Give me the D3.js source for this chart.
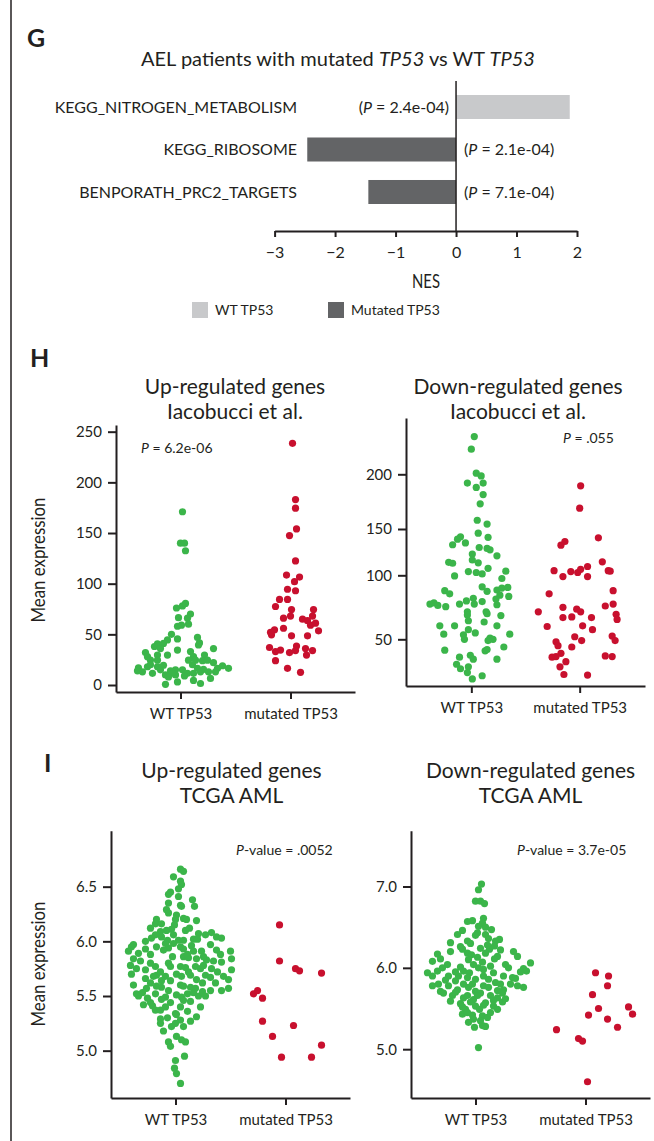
<!DOCTYPE html>
<html lang="en">
<head>
<meta charset="UTF-8">
<title>AEL TP53 figure</title>
<script src="https://d3js.org/d3.v7.min.js"></script>
<style>
  body { margin: 0; background: #fff; }
  svg { display: block; font-family: Lato, "Open Sans", sans-serif; }
  .axis path, .axis line { stroke: #231f20; stroke-width: 2px; }
  .axis text { fill: #231f20; font-family: Lato, "Open Sans", sans-serif; }
  .lbl { fill: #231f20; }
</style>
</head>
<body>
<div id="figure"></div>
<script>
// ---------- panel G: GSEA NES ----------
const pathways = ["KEGG_NITROGEN_METABOLISM", "KEGG_RIBOSOME", "BENPORATH_PRC2_TARGETS"];
const nesValues = [1.88, -2.46, -1.45];
const pathwayP = ["2.4e-04", "2.1e-04", "7.1e-04"];
const nesTicks = [-3, -2, -1, 0, 1, 2];
const legendGroups = ["WT TP53", "Mutated TP53"];

// ---------- panels H / I: dot plots, [jitter, value] ----------
const scatterGroups = ["WT TP53", "mutated TP53"];

const hUpWT = [[2,171],[0,140],[4,140],[5,132.5],[-4,76],[2,78],[5,80.5],[10,70],[-2,66.5],[7,66],[-3,58],[1,59],[8,60],
  [-9,50],[17,47],[-13,44.5],[-3,45.5],[-23,40.5],[-17,41],[19,41.5],[-26,38],[-20,36],[-3,34.5],[18,39.5],[33,36],
  [-35,32],[10,33],[-23,29.5],[-33,28],[-13,29.5],[24,29.5],[13,28],[-30,24.5],[-23,24.5],[8,24.5],[15,24.5],[22,24],
  [27,24.5],[33,22],[-42,17],[-33,18],[-23,18],[-17,19.5],[17,16.5],[23,15.5],[37,16.5],[42,19],[48,16.5],
  [-43,14],[-20,15],[-10,14],[-5,15],[2,15],[7,11.5],[13,11.5],[20,13],[28,13],[35,13],[-28,11.5],[-15,10],
  [-5,10],[4,9],[30,6.5],[13,4.5],[20,1.5],[-15,0.7],[-8,12],[-38,13],[-30,20],[12,20],[-12,8],[-3,3]];
const hUpMut = [[2,238.5],[5,183],[5,174.5],[6,154],[-1,147.5],[5,122.5],[-4,108.5],[9,106.5],[4,102],[-3,94.5],[5,93],
  [-11,84.5],[-3,84.5],[-15,77.5],[1,74.5],[23,74.5],[22,68],[-7,66],[0,68],[12,65],[17,63.5],[20,59],[25,61],[28,53.5],
  [-16,54.5],[-7,56],[-19,49.5],[1,48.5],[17,48.5],[-21,37],[-10,34.5],[6,38.5],[15,36],[22,34],[-15,33],[-1,32],
  [5,34],[16,29.5],[-15,24],[-3,16.5],[10,12.5],[-20,52]];

const hDownWT = [[3,234.5],[0,223],[5,201],[10,198.5],[-4,192],[5,188],[12,192],[12,181.5],[9,173],[6,158],[16,154.5],
  [7,145.5],[-11,141.5],[-14,139],[17,141],[-6,135],[-19,133],[8,130],[16,129],[19,127.5],[1,123],[26,121],[-23,114],
  [-19,113],[1,116.5],[7,113.5],[17,107.5],[-3,104],[5,103],[11,101.5],[35,104.5],[-17,99.5],[31,97.5],[11,91],[16,87.5],
  [26,88.5],[31,90],[37,90.5],[29,84.5],[38,83.5],[-27,88],[-22,85.5],[2,82],[11,79.5],[-5,80],[25,81.5],[-42,77.5],
  [-38,78.5],[-34,76.5],[-26,75.5],[-12,77.5],[3,77.5],[26,77],[-4,71.5],[15,71.5],[-4,69],[16,70],[30,68.5],[-3,64.5],
  [13,63.5],[-32,60.5],[-17,60.5],[26,60.5],[-3,57.5],[-28,54],[-8,53.5],[4,55],[39,54],[-7,50],[19,51],[22,50],[17,49],
  [33,44],[-27,41.5],[14,41],[16,42],[-12,36],[-1,37.5],[2,34.5],[26,34.5],[-15,30.5],[-11,27],[-3,28.5],[-4,24],
  [11,21.5],[1,19]];
const hDownMut = [[1,189.5],[0,169],[19,140.5],[-19,132.5],[-15,136.5],[23,114.5],[-26,105],[-17,99],[-9,104],[-2,103],
  [1,106.5],[8,109.5],[8,99],[29,105],[31,104.5],[34,88],[-31,85.5],[-17,75],[-3,73.5],[1,71.5],[-17,67],[-8,67.5],
  [26,76],[34,77.5],[37,69.5],[38,65.5],[12,67],[-42,71.5],[-33,60],[3,60.5],[13,57.5],[-5,52],[2,49],[33,52.5],[36,49],
  [-24,48],[-22,45],[-8,44],[-19,39],[-28,36],[-24,36.5],[26,37],[33,36.5],[-14,32.5],[-20,28.5],[-16,22.5],[8,22]];

const iUpWT = [[5,6.66],[8,6.64],[-2,6.59],[5,6.55],[6,6.52],[-5,6.45],[3,6.48],[-7,6.43],[3,6.41],[-7,6.35],[5,6.33],
  [6,6.32],[17,6.38],[19,6.32],[-9,6.29],[-7,6.26],[1,6.24],[8,6.21],[11,6.20],[0,6.20],[-19,6.20],[-20,6.16],[21,6.19],
  [-25,6.12],[-1,6.15],[-4,6.11],[-9,6.10],[-15,6.09],[10,6.10],[-20,6.06],[-24,6.03],[23,6.07],[30,6.06],[36,6.08],
  [41,6.04],[46,6.03],[-30,6.00],[-14,6.04],[-8,6.01],[3,6.01],[8,6.01],[18,6.02],[22,6.02],[-42,5.97],[-44,5.95],
  [-47,5.91],[-37,5.89],[-25,5.88],[-19,5.95],[-7,5.94],[-2,5.98],[5,5.95],[8,5.93],[16,5.96],[18,5.91],[26,5.91],
  [35,5.97],[41,5.92],[55,5.91],[56,5.84],[-42,5.84],[-35,5.82],[8,5.86],[13,5.85],[21,5.84],[31,5.83],[38,5.82],
  [46,5.81],[-7,5.80],[-5,5.77],[-20,5.77],[-39,5.75],[-30,5.74],[5,5.77],[10,5.76],[20,5.77],[25,5.75],[36,5.75],
  [56,5.74],[-44,5.70],[-19,5.69],[-22,5.68],[-10,5.68],[1,5.70],[6,5.68],[15,5.69],[30,5.69],[35,5.67],[48,5.68],
  [53,5.65],[-14,5.64],[21,5.65],[27,5.62],[5,5.60],[8,5.59],[-42,5.60],[-29,5.57],[-19,5.59],[-14,5.58],[15,5.58],
  [20,5.57],[35,5.55],[46,5.55],[53,5.57],[-39,5.52],[-37,5.50],[-20,5.52],[1,5.51],[6,5.49],[18,5.53],[23,5.50],
  [27,5.54],[-10,5.49],[-14,5.47],[-32,5.42],[-25,5.44],[-23,5.41],[8,5.46],[5,5.40],[-20,5.37],[-15,5.37],[0,5.34],
  [1,5.33],[21,5.31],[-15,5.29],[-15,5.25],[15,5.27],[0,5.25],[-4,5.22],[1,5.13],[6,5.10],[10,5.08],[-7,5.08],[-5,5.04],
  [9,4.95],[0,4.91],[-1,4.84],[1,4.79],[5,4.70],
  [-12,5.92],[12,5.88],[-25,5.80],[28,5.78],[-3,5.86],[-15,5.72],[13,5.72],[-30,5.66],[-5,5.64],[40,5.62],[-25,5.62],
  [12,5.52],[-7,5.55],[30,5.50],[-28,5.48],[15,5.45],[-5,5.44],[25,5.40],[-10,5.40],[12,5.36],[-8,5.30],[8,5.22],
  [-12,5.18],[5,5.28],[-2,6.06],[14,6.12],[-14,6.16],[-30,5.93],[45,5.88],[-45,5.78],[42,5.72],[-33,5.53],[-10,5.98],
  [28,5.86]];
const iUpMut = [[-6,6.15],[-6,5.82],[10,5.75],[14,5.73],[36,5.71],[-32,5.52],[-28,5.55],[-23,5.48],[-23,5.27],[8,5.23],
  [-13,5.13],[36,5.05],[-4,4.94],[26,4.94]];

const iDownWT = [[6,7.03],[3,6.96],[0,6.82],[5,6.82],[9,6.79],[-8,6.57],[8,6.61],[7,6.55],[10,6.50],[16,6.47],[3,6.51],
  [2,6.43],[-13,6.46],[-18,6.41],[10,6.41],[-25,6.31],[-8,6.33],[13,6.36],[20,6.33],[24,6.35],[-15,6.26],[-13,6.23],
  [5,6.24],[14,6.23],[19,6.27],[-8,6.18],[-4,6.16],[10,6.18],[2,6.13],[22,6.14],[19,6.11],[38,6.20],[42,6.14],[-38,6.17],
  [-35,6.11],[-43,6.08],[-7,6.10],[7,6.07],[-2,6.04],[55,6.06],[-28,6.04],[-33,6.00],[30,6.04],[33,6.00],[-15,6.01],
  [-12,5.96],[48,5.99],[51,5.96],[3,6.00],[8,5.98],[18,5.94],[-38,5.96],[-43,5.90],[-27,5.90],[-30,5.85],[-6,5.94],
  [-8,5.88],[28,5.90],[37,5.88],[40,5.87],[8,5.90],[13,5.86],[-17,5.90],[-20,5.84],[0,5.86],[20,5.82],[25,5.80],
  [-43,5.78],[-37,5.80],[-27,5.78],[-12,5.80],[-7,5.76],[8,5.78],[13,5.76],[35,5.80],[42,5.78],[48,5.76],[-35,5.71],
  [-32,5.69],[-18,5.73],[0,5.71],[5,5.69],[28,5.73],[27,5.69],[-23,5.66],[-12,5.63],[-8,5.66],[15,5.66],[22,5.63],
  [-2,5.61],[-25,5.59],[10,5.57],[8,5.54],[27,5.58],[0,5.53],[4,5.49],[-13,5.52],[-10,5.49],[18,5.53],[22,5.49],
  [7,5.41],[12,5.39],[-13,5.43],[-3,5.42],[-2,5.37],[-7,5.33],[5,5.35],[7,5.29],[10,5.28],[-1,5.27],[3,5.02],
  [-20,5.95],[15,6.02],[-5,6.30],[12,6.28],[-3,5.80],[22,5.72],[-20,5.70],[30,5.62],[-5,5.58],[15,5.45],[-8,5.45],
  [2,5.66],[-25,6.20],[25,6.22],[45,5.95],[-48,5.94],[0,6.40],[-3,6.58],[18,5.60],[-15,5.56]];
const iDownMut = [[10,5.94],[23,5.90],[22,5.78],[7,5.67],[13,5.50],[43,5.52],[47,5.43],[3,5.42],[22,5.37],[32,5.27],
  [-29,5.24],[-7,5.13],[-3,5.10],[2,4.60]];

const wtGreen = "#3bb54a", mutRed = "#c8102e";
const ink = "#231f20";

const svg = d3.select("#figure").append("svg")
    .attr("width", 654)
    .attr("height", 1141);

// left frame rule
svg.append("line")
    .attr("x1", 11).attr("x2", 11)
    .attr("y1", 0).attr("y2", 1141)
    .attr("stroke", ink).attr("stroke-width", 1.5);

function panelLetter(txt, x, y) {
    svg.append("text").attr("class", "lbl")
        .attr("x", x).attr("y", y)
        .style("font-size", "25px").style("font-weight", "bold")
        .text(txt);
}

// ================= G =================
panelLetter("G", 27, 47);

const gTitle = svg.append("text").attr("class", "lbl")
    .attr("x", 338).attr("y", 66)
    .attr("text-anchor", "middle")
    .style("font-size", "20px");
gTitle.append("tspan").text("AEL patients with mutated ");
gTitle.append("tspan").style("font-style", "italic").text("TP53");
gTitle.append("tspan").text(" vs WT ");
gTitle.append("tspan").style("font-style", "italic").text("TP53");

const xG = d3.scaleLinear().domain([-3, 2]).range([274.6, 577]);
const yG = d3.scaleBand().domain(pathways).range([86.5, 212.5]).paddingInner(0.435).paddingOuter(0.2);
const gData = pathways.map((p, i) => ({ name: p, nes: nesValues[i], p: pathwayP[i] }));

svg.append("g").selectAll("rect")
    .data(gData)
    .enter().append("rect")
      .attr("x", d => xG(Math.min(0, d.nes)))
      .attr("y", d => yG(d.name))
      .attr("width", d => Math.abs(xG(d.nes) - xG(0)))
      .attr("height", yG.bandwidth())
      .attr("fill", d => d.nes > 0 ? "#c8c9cb" : "#636466");

svg.append("line")
    .attr("x1", xG(0)).attr("x2", xG(0))
    .attr("y1", 81).attr("y2", 231)
    .attr("stroke", ink).attr("stroke-width", 1.5);

svg.append("g")
    .attr("class", "axis")
    .attr("transform", "translate(0,231)")
    .call(d3.axisBottom(xG).tickValues(nesTicks).tickFormat(d3.format("d"))
        .tickSize(6).tickSizeOuter(0).tickPadding(10))
    .call(g => g.attr("font-size", null).attr("font-family", null))
    .call(g => g.selectAll("text").style("font-size", "16px"));

svg.append("text").attr("class", "lbl")
    .attr("x", 426).attr("y", 288)
    .attr("text-anchor", "middle")
    .attr("textLength", 28).attr("lengthAdjust", "spacingAndGlyphs")
    .style("font-size", "19px")
    .text("NES");

svg.append("g").selectAll("text")
    .data(gData)
    .enter().append("text").attr("class", "lbl")
      .attr("x", 297)
      .attr("y", d => yG(d.name) + yG.bandwidth() / 2)
      .attr("dy", "0.35em")
      .attr("text-anchor", "end")
      .style("font-size", "16px")
      .text(d => d.name);

const pLab = svg.append("g").selectAll("text")
    .data(gData)
    .enter().append("text").attr("class", "lbl")
      .attr("x", d => d.nes > 0 ? xG(0) - 7 : xG(0) + 8)
      .attr("y", d => yG(d.name) + yG.bandwidth() / 2)
      .attr("dy", "0.35em")
      .attr("text-anchor", d => d.nes > 0 ? "end" : "start")
      .style("font-size", "16px");
pLab.append("tspan").text("(");
pLab.append("tspan").style("font-style", "italic").text("P");
pLab.append("tspan").text(d => " = " + d.p + ")");

const legend = svg.append("g").selectAll("g")
    .data(legendGroups)
    .enter().append("g")
      .attr("transform", (d, i) => `translate(${[192, 328][i]},302)`);
legend.append("rect")
    .attr("width", 16).attr("height", 16)
    .attr("fill", (d, i) => i === 0 ? "#c8c9cb" : "#636466");
legend.append("text").attr("class", "lbl")
    .attr("x", 23).attr("y", 8).attr("dy", "0.35em")
    .style("font-size", "14px")
    .text(d => d);

// ================= H / I dot plots =================
panelLetter("H", 30, 367);
panelLetter("I", 44, 772);

function yLabel(cy) {
    svg.append("text").attr("class", "lbl")
        .attr("transform", `translate(45,${cy}) rotate(-90)`)
        .attr("text-anchor", "middle")
        .attr("textLength", 125).attr("lengthAdjust", "spacingAndGlyphs")
        .style("font-size", "19px")
        .text("Mean expression");
}

function dotPanel(cfg) {
    const x = d3.scalePoint().domain(scatterGroups).range([cfg.left, cfg.right]).padding(cfg.pad);
    const y = d3.scaleLinear().domain(cfg.yDomain).range(cfg.yRange);
    const jitter = d3.scaleLinear().domain([-55, 55]).range([-x.step() / 2, x.step() / 2]);

    cfg.title.forEach((line, i) => {
        svg.append("text").attr("class", "lbl")
            .attr("x", cfg.titleX).attr("y", cfg.titleY + i * 25)
            .attr("text-anchor", "middle")
            .style("font-size", "21px")
            .text(line);
    });

    svg.append("g")
        .attr("class", "axis")
        .attr("transform", `translate(0,${cfg.bottom})`)
        .call(d3.axisBottom(x).tickSize(7).tickSizeOuter(0).tickPadding(9))
        .call(g => g.attr("font-size", null).attr("font-family", null))
        .call(g => g.selectAll("text").style("font-size", "15px"));

    svg.append("g")
        .attr("class", "axis")
        .attr("transform", `translate(${cfg.left},0)`)
        .call(d3.axisLeft(y).tickValues(cfg.ticks).tickFormat(cfg.fmt).tickSize(8).tickSizeOuter(0).tickPadding(6))
        .call(g => g.attr("font-size", null).attr("font-family", null))
        .call(g => g.selectAll("text").style("font-size", "15px"));

    const series = [
        { data: cfg.wt, group: scatterGroups[0], color: wtGreen },
        { data: cfg.mut, group: scatterGroups[1], color: mutRed }
    ];
    series.forEach(s => {
        svg.append("g").selectAll("circle")
            .data(s.data)
            .enter().append("circle")
              .attr("cx", d => x(s.group) + jitter(d[0]))
              .attr("cy", d => y(d[1]))
              .attr("r", 3.6)
              .attr("fill", s.color);
    });

    const pt = svg.append("text").attr("class", "lbl")
        .attr("x", cfg.pX).attr("y", cfg.pY)
        .style("font-size", "14px");
    pt.append("tspan").style("font-style", "italic").text("P");
    pt.append("tspan").text(cfg.pText);
}

dotPanel({
    left: 116, right: 355, bottom: 692, pad: 0.586,
    yDomain: [-6.9, 256.6], yRange: [692, 425],
    ticks: [0, 50, 100, 150, 200, 250], fmt: d3.format("d"),
    title: ["Up-regulated genes", "Iacobucci et al."], titleX: 235, titleY: 394,
    wt: hUpWT, mut: hUpMut,
    pX: 141, pY: 453, pText: " = 6.2e-06"
});
dotPanel({
    left: 406, right: 645, bottom: 686, pad: 0.603,
    yDomain: [13.5, 50, 100, 150, 200, 251.5], yRange: [686, 639.3, 575.3, 529, 474.3, 418],
    ticks: [50, 100, 150, 200], fmt: d3.format("d"),
    title: ["Down-regulated genes", "Iacobucci et al."], titleX: 518, titleY: 394,
    wt: hDownWT, mut: hDownMut,
    pX: 563, pY: 443, pText: " = .055"
});
dotPanel({
    left: 111, right: 350, bottom: 1098, pad: 0.586,
    yDomain: [4.567, 7.012], yRange: [1098, 830.7],
    ticks: [5.0, 5.5, 6.0, 6.5], fmt: d3.format(".1f"),
    title: ["Up-regulated genes", "TCGA AML"], titleX: 231.5, titleY: 778,
    wt: iUpWT, mut: iUpMut,
    pX: 236, pY: 855, pText: "-value = .0052"
});
dotPanel({
    left: 411, right: 650, bottom: 1098, pad: 0.586,
    yDomain: [4.4, 7.686], yRange: [1098, 830.7],
    ticks: [5.0, 6.0, 7.0], fmt: d3.format(".1f"),
    title: ["Down-regulated genes", "TCGA AML"], titleX: 530.5, titleY: 778,
    wt: iDownWT, mut: iDownMut,
    pX: 517, pY: 855, pText: "-value = 3.7e-05"
});

yLabel(560);
yLabel(964);
</script>
</body>
</html>
